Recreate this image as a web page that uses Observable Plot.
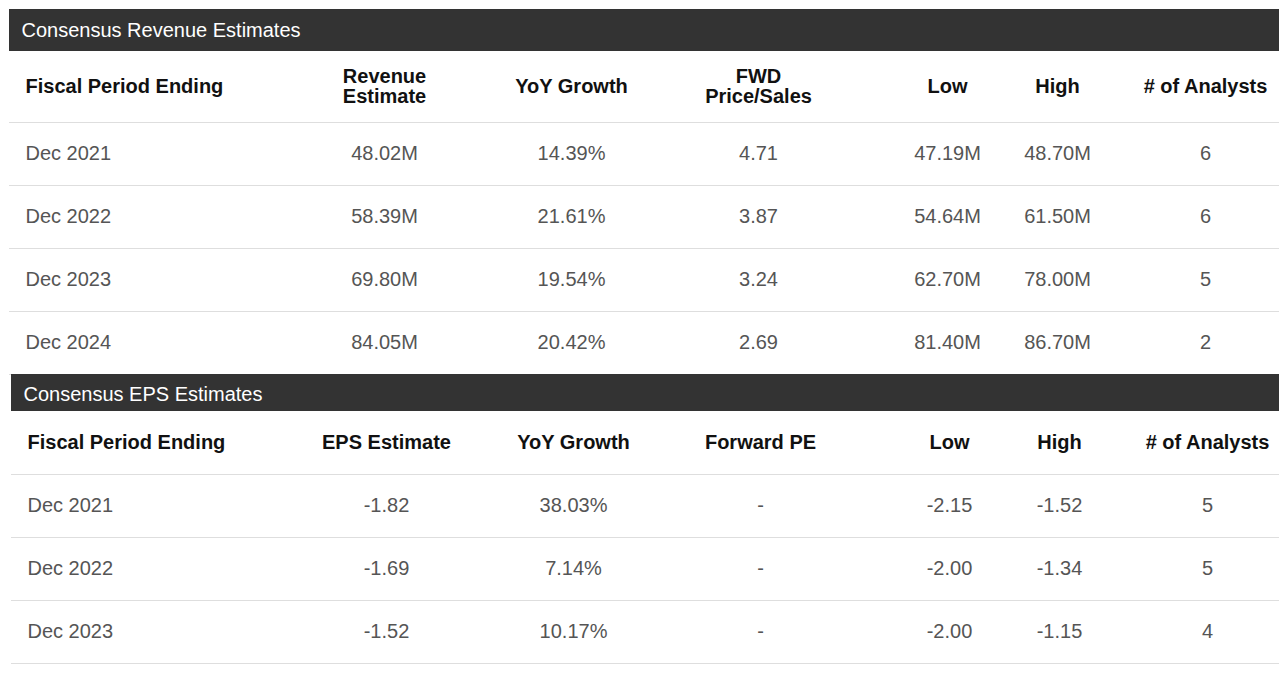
<!DOCTYPE html>
<html>
<head>
<meta charset="utf-8">
<script src="https://cdn.jsdelivr.net/npm/d3@7"></script>
<script src="https://cdn.jsdelivr.net/npm/@observablehq/plot@0.6"></script>
<style>
  html, body { margin: 0; padding: 0; background: #fff; }
  #chart svg { display: block; font-family: Arial, "Liberation Sans", sans-serif; }
</style>
</head>
<body>
<div id="chart"></div>
<script>
// ---- Data: Consensus Revenue Estimates ----
const revTitle = "Consensus Revenue Estimates";
const revHeaders = ["Fiscal Period Ending", "Revenue\nEstimate", "YoY Growth", "FWD\nPrice/Sales", "Low", "High", "# of Analysts"];
const revPeriods = ["Dec 2021", "Dec 2022", "Dec 2023", "Dec 2024"];
const revEstimate = [48.02, 58.39, 69.80, 84.05];
const revYoY = [14.39, 21.61, 19.54, 20.42];
const revFwdPS = [4.71, 3.87, 3.24, 2.69];
const revLow = [47.19, 54.64, 62.70, 81.40];
const revHigh = [48.70, 61.50, 78.00, 86.70];
const revAnalysts = [6, 6, 5, 2];

// ---- Data: Consensus EPS Estimates ----
const epsTitle = "Consensus EPS Estimates";
const epsHeaders = ["Fiscal Period Ending", "EPS Estimate", "YoY Growth", "Forward PE", "Low", "High", "# of Analysts"];
const epsPeriods = ["Dec 2021", "Dec 2022", "Dec 2023"];
const epsEstimate = [-1.82, -1.69, -1.52];
const epsYoY = [38.03, 7.14, 10.17];
const epsFwdPE = [null, null, null];
const epsLow = [-2.15, -2.00, -2.00];
const epsHigh = [-1.52, -1.34, -1.15];
const epsAnalysts = [5, 5, 4];

// ---- Formatting ----
const fmt2 = v => v == null ? "-" : v.toFixed(2);
const fmtM = v => v == null ? "-" : v.toFixed(2) + "M";
const fmtPct = v => v == null ? "-" : v.toFixed(2) + "%";
const fmtInt = v => v == null ? "-" : String(v);

// ---- Layout ----
const W = 1279, H = 675;
const colCenters = [null, 384, 571, 758, 947, 1057, 1205];
const tables = [
  {
    title: revTitle, headers: revHeaders,
    columns: [revPeriods, revEstimate.map(fmtM), revYoY.map(fmtPct), revFwdPS.map(fmt2), revLow.map(fmtM), revHigh.map(fmtM), revAnalysts.map(fmtInt)],
    left: 9, barTop: 9, barBottom: 51, titleY: 30, headerY: 86, firstRowY: 153, firstSep: 122, pitch: 63, dx: 0
  },
  {
    title: epsTitle, headers: epsHeaders,
    columns: [epsPeriods, epsEstimate.map(fmt2), epsYoY.map(fmtPct), epsFwdPE.map(fmt2), epsLow.map(fmt2), epsHigh.map(fmt2), epsAnalysts.map(fmtInt)],
    left: 11, barTop: 374, barBottom: 411, titleY: 394, headerY: 442, firstRowY: 505, firstSep: 474, pitch: 63, dx: 2
  }
];

const bars = [], titles = [], headerCells = [], bodyCells = [], seps = [];
for (const t of tables) {
  bars.push({x1: t.left, x2: W, y1: t.barTop, y2: t.barBottom});
  titles.push({x: t.left + 12, y: t.titleY, text: t.title});
  t.headers.forEach((h, c) => {
    headerCells.push({
      x: c === 0 ? t.left + 16 : colCenters[c] + t.dx,
      y: t.headerY, text: h, anchor: c === 0 ? "start" : "middle"
    });
  });
  const n = t.columns[0].length;
  for (let r = 0; r <= n; r++) {
    seps.push({y: t.firstSep + r * t.pitch, x1: t.left, x2: W});
  }
  for (let r = 0; r < n; r++) {
    t.columns.forEach((col, c) => {
      bodyCells.push({
        x: c === 0 ? t.left + 16 : colCenters[c] + t.dx,
        y: t.firstRowY + r * t.pitch, text: col[r], anchor: c === 0 ? "start" : "middle"
      });
    });
  }
}

const font = "Arial, 'Liberation Sans', sans-serif";
const chart = Plot.plot({
  width: W, height: H,
  margin: 0,
  x: {type: "linear", domain: [0, W], range: [0, W], axis: null},
  y: {type: "linear", domain: [0, H], range: [0, H], axis: null},
  style: {fontFamily: font, background: "#fff"},
  marks: [
    Plot.ruleY(seps, {y: "y", x1: "x1", x2: "x2", stroke: "#dedede", strokeWidth: 1}),
    Plot.rect(bars, {x1: "x1", x2: "x2", y1: "y1", y2: "y2", fill: "#333333"}),
    Plot.text(titles, {x: "x", y: "y", text: "text", textAnchor: "start", fill: "#ffffff", fontSize: 20, fontFamily: font}),
    Plot.text(headerCells.filter(d => d.anchor === "start"), {x: "x", y: "y", text: "text", textAnchor: "start", fill: "#111111", fontSize: 20, fontWeight: "bold", fontFamily: font}),
    Plot.text(headerCells.filter(d => d.anchor === "middle"), {x: "x", y: "y", text: "text", textAnchor: "middle", lineHeight: 1.0, fill: "#111111", fontSize: 20, fontWeight: "bold", fontFamily: font}),
    Plot.text(bodyCells.filter(d => d.anchor === "start"), {x: "x", y: "y", text: "text", textAnchor: "start", fill: "#555555", fontSize: 20, fontFamily: font}),
    Plot.text(bodyCells.filter(d => d.anchor === "middle"), {x: "x", y: "y", text: "text", textAnchor: "middle", fill: "#555555", fontSize: 20, fontFamily: font})
  ]
});
document.getElementById("chart").appendChild(chart);
</script>
</body>
</html>
